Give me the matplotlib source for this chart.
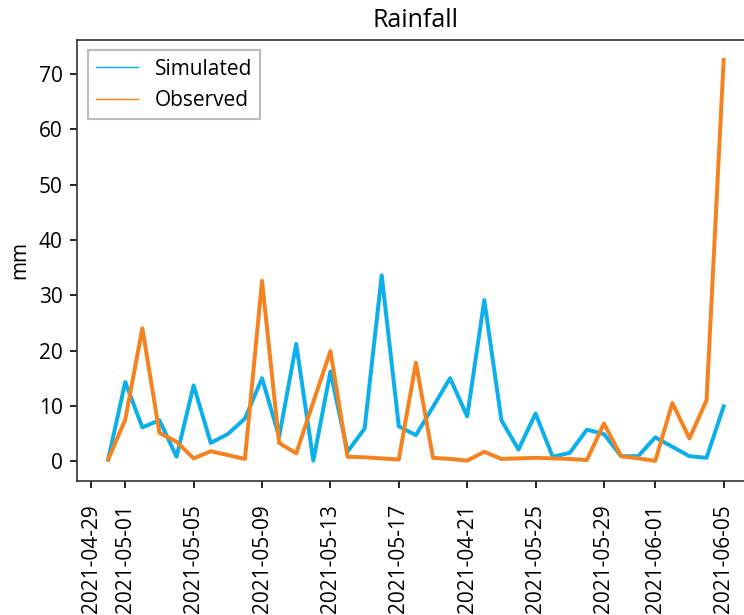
import numpy as np
import pandas as pd
import matplotlib
matplotlib.use("Agg")
import matplotlib.pyplot as plt
from matplotlib.lines import Line2D

plt.rcParams['font.family'] = ['Open Sans', 'DejaVu Sans']

# daily values, 2021-04-30 .. 2021-06-05
dates = pd.date_range('2021-04-30', '2021-06-05', freq='D')
simulated = [0.3, 14.3, 6.1, 7.4, 0.8, 13.7, 3.3, 4.9, 7.7, 15.0,
             4.4, 21.2, 0.1, 16.2, 1.7, 5.9, 33.6, 6.3, 4.7, 9.8,
             15.0, 8.1, 29.1, 7.4, 2.1, 8.6, 0.8, 1.5, 5.7, 4.9,
             0.9, 0.9, 4.3, 2.6, 0.9, 0.6, 9.9]
observed = [0.3, 7.5, 24.0, 5.1, 3.5, 0.5, 1.8, 1.1, 0.4, 32.6,
            3.3, 1.4, 10.7, 19.9, 0.8, 0.7, 0.5, 0.3, 17.8, 0.6,
            0.4, 0.1, 1.7, 0.4, 0.5, 0.6, 0.5, 0.4, 0.2, 6.8,
            0.9, 0.5, 0.05, 10.5, 4.1, 11.0, 72.5]

tick_dates = ['2021-04-29', '2021-05-01', '2021-05-05', '2021-05-09', '2021-05-13',
              '2021-05-17', '2021-05-21', '2021-05-25', '2021-05-29', '2021-06-01',
              '2021-06-05']
tick_labels = ['2021-04-29', '2021-05-01', '2021-05-05', '2021-05-09', '2021-05-13',
               '2021-05-17', '2021-04-21', '2021-05-25', '2021-05-29', '2021-06-01',
               '2021-06-05']

blue = '#0AAFEB'
orange = '#F5821F'

fig = plt.figure(figsize=(4.96, 4.1), dpi=150)
ax = fig.add_axes([0.104, 0.218, 0.91, 0.717])

ax.plot(dates, simulated, color=blue, lw=1.9)
ax.plot(dates, observed, color=orange, lw=1.9)

ax.set_xticks(pd.to_datetime(tick_dates))
ax.set_xticklabels(tick_labels, rotation=90)
ax.tick_params(axis='x', pad=7.5)
ax.set_ylabel('mm')
ax.set_title('Rainfall')
for s in ax.spines.values():
    s.set_color('#333333')

handles = [Line2D([], [], color=blue, lw=0.7), Line2D([], [], color=orange, lw=0.7)]
ax.legend(handles, ['Simulated', 'Observed'], loc='upper left', fancybox=False,
          edgecolor='#bbbbbb', framealpha=1)

fig.savefig('out.png', dpi=150)
